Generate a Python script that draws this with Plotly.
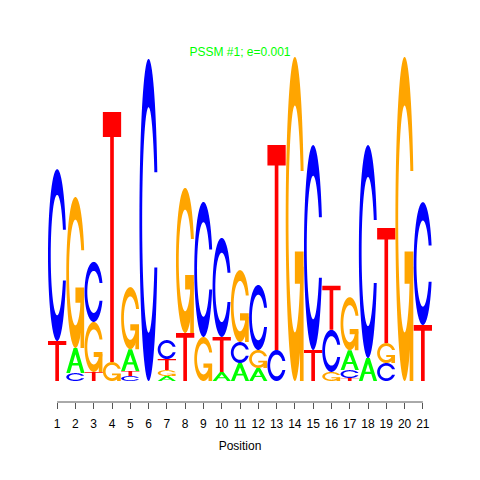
import numpy as np
import plotly.graph_objects as go

# ---------------- data (information content in bits) -------------
positions = list(range(1, 22))
tick_labels = [str(p) for p in positions]
A = [0, 0.152, 0, 0, 0.133, 0, 0.030, 0, 0, 0.055, 0.109, 0.079, 0, 0, 0, 0, 0.121, 0.139, 0, 0, 0]
C = [1.042, 0.048, 0.364, 0, 0.030, 1.952, 0.115, 0, 0.818, 0.600, 0.127, 0.394, 0.188, 0, 1.242, 0.255, 0.048, 1.291, 0.109, 0, 0.745]
G = [0, 0.915, 0.303, 0.115, 0.376, 0, 0.036, 0.879, 0.267, 0, 0.436, 0.109, 0, 1.964, 0, 0.055, 0.321, 0, 0.121, 1.964, 0]
T = [0.242, 0, 0.055, 1.515, 0.030, 0, 0.067, 0.291, 0, 0.212, 0, 0, 1.242, 0, 0.188, 0.267, 0.018, 0, 0.697, 0, 0.339]
title_text = "PSSM #1; e=0.001"
x_title = "Position"

colors = {"A": "#00FF00", "C": "#0000FF", "G": "#FFA500", "T": "#FF0000"}

# ---------------- glyph outlines in a unit box -------------
def _c_ring(n=60):
    a1 = np.linspace(0.3 + np.pi / 2, np.pi, n)
    a2 = np.linspace(np.pi, 1.5 * np.pi, n)
    xl = np.concatenate([0.5 + 0.5 * np.sin(a1), 0.5 + 0.5 * np.sin(a2)])
    yl = np.concatenate([0.5 + 0.5 * np.cos(a1), 0.5 + 0.5 * np.cos(a2)])
    xo = np.concatenate([xl, xl[::-1]])
    yo = np.concatenate([yl, 1 - yl[::-1]])
    ymax = (0.5 + 0.5 * np.cos(a1)).max()
    xi1 = 0.5 + 0.35 * np.sin(a1)
    yi1 = 0.5 + 0.35 * np.cos(a1)
    keep = yi1 <= ymax
    xi1 = xi1[keep]
    yi1 = yi1[keep]
    yi1[0] = ymax
    xi2 = 0.5 + 0.35 * np.sin(a2)
    yi2 = 0.5 + 0.35 * np.cos(a2)
    xi = np.concatenate([xi1, xi2])
    yi = np.concatenate([yi1, yi2])
    x1 = np.concatenate([xi, xi[::-1]])
    y1 = np.concatenate([yi, 1 - yi[::-1]])
    x = np.concatenate([xo, x1[::-1]])
    y = np.concatenate([yo, y1[::-1]])
    return x, y, float(xl[:n].max())


def glyph(letter):
    # returns list of parts; each part = list of subpaths (x array, y array)
    if letter == "A":
        x = np.array([0, 4, 6, 10, 8, 6.8, 3.2, 2, 0]) / 10
        y = np.array([0, 10, 10, 0, 0, 3, 3, 0, 0]) / 10
        hx = np.array([3.6, 5, 6.4, 3.6]) / 10
        hy = np.array([4, 7.5, 4, 4]) / 10
        return [[(x, y), (hx, hy)]]
    if letter == "T":
        x = np.array([0, 10, 10, 6, 6, 4, 4, 0]) / 10
        y = np.array([10, 10, 9, 9, 0, 0, 9, 9]) / 10
        return [[(x, y)]]
    x, y, r1 = _c_ring()
    if letter == "C":
        return [[(x, y)]]
    h1 = 0.4
    xa = np.array([r1, 0.5, 0.5, r1 - 0.2, r1 - 0.2, r1, r1])
    ya = np.array([h1, h1, h1 - 0.1, h1 - 0.1, 0, 0, h1])
    return [[(x, y)], [(xa, ya)]]


def part_path(part, x0, y0, w, h):
    segs = []
    for gx, gy in part:
        px = x0 + gx * w
        py = y0 + gy * h
        pts = " L".join(f"{a:.4f},{b:.5f}" for a, b in zip(px, py))
        segs.append("M" + pts + " Z")
    return " ".join(segs)


series = {"A": A, "C": C, "G": G, "T": T}
shapes = []
for i, p in enumerate(positions):
    col = sorted([(series[k][i], k) for k in "ACGT" if series[k][i] > 0])
    base = 0.0
    for h, k in col:
        for part in glyph(k):
            shapes.append(dict(
                type="path", xref="x", yref="y",
                path=part_path(part, p - 0.5, base, 1.0, h),
                fillcolor=colors[k], line=dict(width=0),
                fillrule="evenodd", layer="above",
            ))
        base += h

# axis line spanning first to last position (R style)
shapes.append(dict(type="line", xref="x", yref="paper",
                   x0=positions[0], x1=positions[-1], y0=0, y1=0,
                   line=dict(color="#555555", width=1)))

fig = go.Figure()
fig.add_trace(go.Scatter(x=positions, y=[0] * len(positions), mode="markers",
                         marker=dict(opacity=0), hoverinfo="skip", showlegend=False))

fig.update_layout(
    width=480, height=480,
    margin=dict(l=40, r=56, t=32, b=86),
    paper_bgcolor="white", plot_bgcolor="white",
    font=dict(family="Liberation Sans, Arial, Helvetica, sans-serif", size=12, color="black"),
    title=dict(text=title_text, x=(40 + 192) / 480, xanchor="center", y=1 - 44 / 480, yanchor="middle",
               yref="container", xref="container", font=dict(size=12, color="#00FF00")),
    shapes=shapes,
    showlegend=False,
    xaxis=dict(range=[0.5, 21.5], tickmode="array", tickvals=positions, ticktext=tick_labels,
               ticks="outside", ticklen=6, tickcolor="#555555", tickwidth=1,
               ticklabelstandoff=5,
               showline=False, showgrid=False, zeroline=False,
               tickfont=dict(size=12, color="black"),
               title=dict(text=x_title, font=dict(size=12, color="black"), standoff=11)),
    yaxis=dict(range=[-21 / 165, 341 / 165], visible=False, showgrid=False, zeroline=False),
)

fig.write_html("out.html")
